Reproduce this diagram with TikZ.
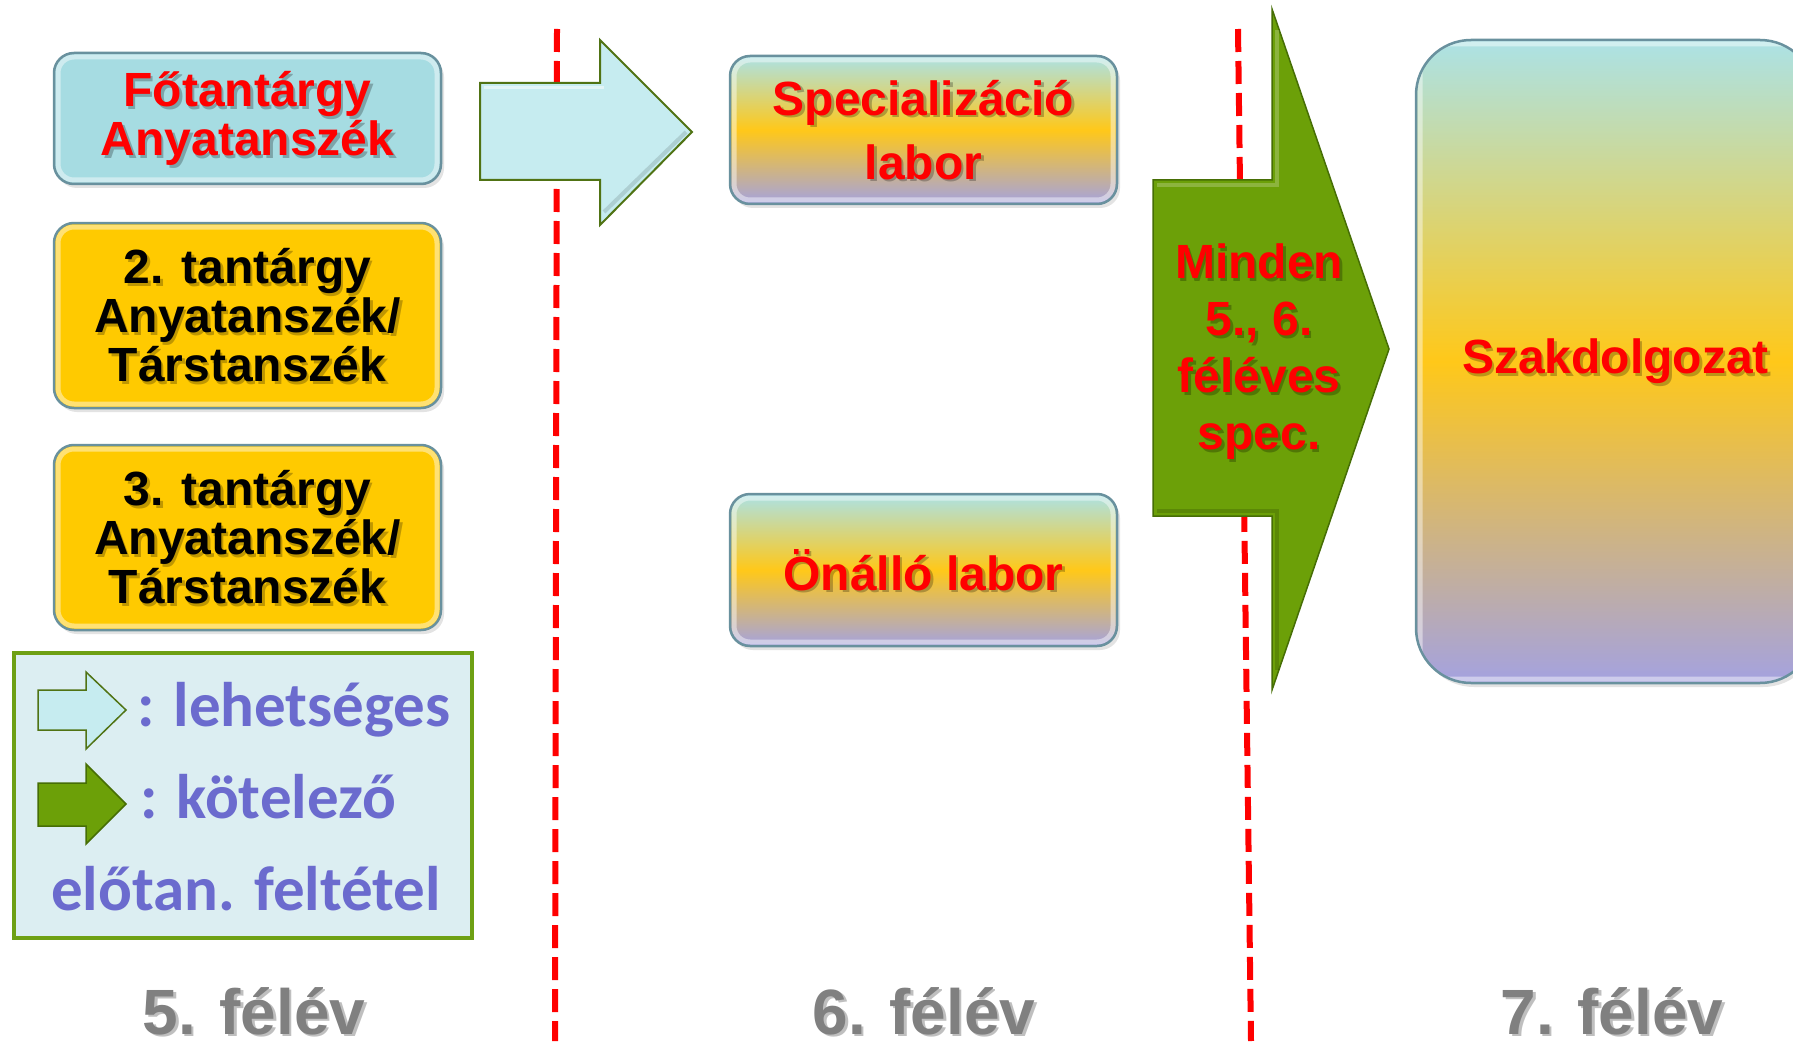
\documentclass[tikz,border=0pt]{standalone}
\usepackage{fontspec}
\setmainfont{Liberation Sans}
\newfontfamily\legendfont{Carlito}
\usetikzlibrary{calc,shadows}

\definecolor{txtred}{RGB}{255,0,0}
\definecolor{dashred}{RGB}{255,0,0}
\definecolor{cyanfill}{RGB}{166,220,226}
\definecolor{goldfill}{RGB}{255,202,0}
\definecolor{gradtop}{RGB}{172,226,230}
\definecolor{gradmid}{RGB}{255,200,25}
\definecolor{gradbot}{RGB}{164,162,224}
\definecolor{boxedge}{RGB}{105,145,158}
\definecolor{legendfill}{RGB}{220,238,242}
\definecolor{legendedge}{RGB}{110,160,20}
\definecolor{legendtext}{RGB}{107,107,206}
\definecolor{palearrow}{RGB}{198,236,240}
\definecolor{arrowedge}{RGB}{80,115,20}
\definecolor{greenarrow}{RGB}{108,160,8}
\definecolor{greenedge}{RGB}{70,110,5}
\definecolor{semgray}{RGB}{128,128,128}

\tikzset{
  card/.style={draw=boxedge, line width=2.5pt, rounded corners=20pt, inner sep=0pt,
    drop shadow={shadow xshift=3pt, shadow yshift=-4pt, opacity=0.22}},
  bevel/.style={path picture={
    \draw[white, opacity=0.45, line width=5pt, rounded corners=16pt]
      ([xshift=4pt,yshift=-4pt]path picture bounding box.north west) rectangle
      ([xshift=-4pt,yshift=4pt]path picture bounding box.south east);}},
  tricolour/.style={top color=gradtop, bottom color=gradbot, middle color=gradmid},
  redtxt/.style={text=txtred, align=center, inner sep=0pt,
    font=\bfseries\fontsize{48}{49}\selectfont},
  blacktxt/.style={redtxt, text=black},
  semtxt/.style={text=semgray, inner sep=0pt, font=\bfseries\fontsize{64}{64}\selectfont},
  legtxt/.style={text=legendtext, inner sep=0pt,
    font=\legendfont\bfseries\fontsize{63}{63}\selectfont},
  divider/.style={draw=dashred, line width=6pt, dash pattern=on 23pt off 9pt},
  palestyle/.style={draw=arrowedge, line width=2pt, fill=palearrow},
  greenstyle/.style={draw=greenedge, line width=1.5pt, fill=greenarrow},
}

% text drawn twice: a soft dark copy underneath, then the coloured one
\newcommand\shadowlabel[4][]{%
  \node[#1, text=black, opacity=0.25] at ($(#3)+(2.5pt,-2.5pt)$) {#4};
  \node[#1] (#2) at (#3) {#4};
}

\begin{document}
\begin{tikzpicture}[x=1pt,y=-1pt]
\useasboundingbox (0,0) rectangle (1793,1051);
\fill[white] (0,0) rectangle (1793,1051);
\clip (0,0) rectangle (1793,1051);

% semester dividers
\coordinate (d1top) at (557,29);
\coordinate (d1bot) at (555,1041);
\coordinate (d2top) at (1238,29);
\coordinate (d2bot) at (1251,1041);
\draw[divider] (d1top) -- (d1bot);
\draw[divider] (d2top) -- (d2bot);

% 5th semester subjects
\node[card, bevel, fill=cyanfill, minimum width=387pt, minimum height=131pt] (fobox) at (247.5,118.5) {};
\node[card, bevel, fill=goldfill, minimum width=387pt, minimum height=185pt] (b2box) at (247.5,315.5) {};
\node[card, bevel, fill=goldfill, minimum width=387pt, minimum height=185pt] (b3box) at (247.5,537.5) {};
\shadowlabel[redtxt]{fotxt}{fobox.center}{Főtantárgy\\Anyatanszék}
\shadowlabel[blacktxt]{b2txt}{b2box.center}{2. tantárgy\\Anyatanszék/\\Társtanszék}
\shadowlabel[blacktxt]{b3txt}{b3box.center}{3. tantárgy\\Anyatanszék/\\Társtanszék}

% optional prerequisite arrow
\draw[palestyle] (480,83) -- (600,83) -- (600,40) -- (692,132) -- (600,225) -- (600,180) -- (480,180) -- cycle;
\draw[white, opacity=0.5, line width=3pt] (484,88) -- (604,88);
\draw[black, opacity=0.12, line width=4pt] (604,212) -- (686,132);

% 6th semester labs
\node[card, bevel, tricolour, minimum width=387pt, minimum height=148pt] (specbox) at (923.5,130) {};
\node[card, bevel, tricolour, minimum width=387pt, minimum height=152pt] (onbox) at (923.5,570) {};
\shadowlabel[redtxt, font=\bfseries\fontsize{48}{64}\selectfont]{spectxt}{specbox.center}{Specializáció\\labor}
\shadowlabel[redtxt]{ontxt}{onbox.center}{Önálló labor}

% mandatory prerequisite arrow
\draw[greenstyle] (1153,180) -- (1272,180) -- (1272,9) -- (1389,349) -- (1272,690) -- (1272,516) -- (1153,516) -- cycle;
\draw[white, opacity=0.22, line width=4pt] (1157,185) -- (1277,185) -- (1277,30);
\draw[black, opacity=0.15, line width=4pt] (1157,511) -- (1277,511) -- (1277,670);
\coordinate (mindenpos) at (1259,352);
\shadowlabel[redtxt, font=\bfseries\fontsize{48}{57}\selectfont]{mindentxt}{mindenpos}{Minden\\5., 6.\\féléves\\spec.}

% thesis
\node[card, bevel, tricolour, rounded corners=55pt, minimum width=399pt, minimum height=643pt] (szakbox) at (1615.5,361.5) {};
\shadowlabel[redtxt]{szaktxt}{szakbox.center}{Szakdolgozat}

% legend
\node[draw=legendedge, line width=4pt, fill=legendfill, minimum width=458pt, minimum height=285pt, inner sep=0pt] (legend) at (243,795.5) {};
\draw[palestyle, line width=1.5pt] (38,690) -- (86,690) -- (86,672) -- (126,710) -- (86,749) -- (86,730) -- (38,730) -- cycle;
\draw[greenstyle] (38,783) -- (86,783) -- (86,764) -- (126,804) -- (86,844) -- (86,826) -- (38,826) -- cycle;
\node[legtxt, anchor=base west] (leg1) at (137,726) {: lehetséges};
\node[legtxt, anchor=base west] (leg2) at (140,818) {: kötelező};
\node[legtxt, anchor=base] (leg3) at (246,910) {előtan. feltétel};

% semester captions
\coordinate (s5) at (254,1034);
\coordinate (s6) at (924,1034);
\coordinate (s7) at (1612,1034);
\shadowlabel[semtxt, anchor=base]{sem5}{s5}{5. félév}
\shadowlabel[semtxt, anchor=base]{sem6}{s6}{6. félév}
\shadowlabel[semtxt, anchor=base]{sem7}{s7}{7. félév}
\end{tikzpicture}
\end{document}
